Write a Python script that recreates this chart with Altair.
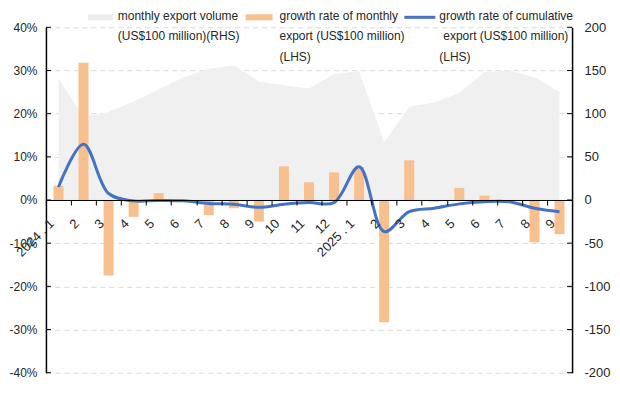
import json
import altair as alt
import pandas as pd

# ---------------- data ----------------
years = ["2024"] * 12 + ["2025"] * 9
months = list(range(1, 13)) + list(range(1, 10))
keys = [f"{y}-{m:02d}" for y, m in zip(years, months)]
tick_labels = ["2024 . 1", "2", "3", "4", "5", "6", "7", "8", "9", "10", "11", "12",
               "2025 . 1", "2", "3", "4", "5", "6", "7", "8", "9"]

# monthly export volume (US$100 million), right axis
export_volume = [141, 96, 102, 114, 128, 142, 152, 156, 137, 133, 129, 146,
                 149, 67, 108, 113, 124, 148, 150, 142, 125]
# growth rate of monthly export (%), left axis
monthly_growth = [3.3, 31.8, -17.5, -3.9, 1.6, -0.4, -3.5, -1.9, -5.0, 7.8, 4.1, 6.4,
                  7.6, -28.3, 9.2, -0.4, 2.8, 1.0, 0.0, -9.8, -7.9]
# growth rate of cumulative export (%), left axis
cumulative_growth = [3.0, 12.9, 1.5, -0.2, -0.1, -0.2, -0.8, -1.0, -1.7, -1.0, -0.6, -0.6,
                     7.7, -7.3, -2.7, -1.9, -0.9, -0.4, -0.4, -1.9, -2.7]

left_ticks = [-0.4, -0.3, -0.2, -0.1, 0.0, 0.1, 0.2, 0.3, 0.4]
right_ticks = [-200, -150, -100, -50, 0, 50, 100, 150, 200]

legend_lines = [
    ["monthly export volume", "(US$100 million)(RHS)"],
    ["growth rate of monthly", "export (US$100 million)", "(LHS)"],
    ["growth rate of cumulative", "export (US$100 million)", "(LHS)"],
]

# ---------------- layout / style ----------------
W, H = 527, 346
FONT = "Liberation Sans"
TXT = "#262626"
BAR = "#F9C08F"
LINE = "#4472C4"
AREA = "#F0F0F0"
GRID = "#D9D9D9"

df = pd.DataFrame({
    "key": keys,
    "volume": export_volume,
    "monthly": [v / 100 for v in monthly_growth],
    "cumulative": [v / 100 for v in cumulative_growth],
})

label_expr = ("[" + ",".join(json.dumps(l) for l in tick_labels) + "][indexof(["
              + ",".join(json.dumps(k) for k in keys) + "], datum.value)]")

x_enc = alt.X(
    "key:N", sort=keys,
    scale=alt.Scale(type="band", paddingInner=0, paddingOuter=0),
    axis=alt.Axis(title=None, labelExpr=label_expr, labelAngle=-45, labelAlign="right",
                  labelBaseline="middle", labelFont=FONT, labelFontSize=13, labelColor=TXT,
                  labelPadding=16, labelOffset=-7, labelOverlap=False, labelBound=False,
                  tickBand="extent", tickSize=5, tickColor="black", domainColor="black",
                  domainWidth=1, offset=-H / 2, zindex=1, grid=False),
)

left_axis = alt.Axis(orient="left", values=left_ticks, title=None,
                     labelExpr="(datum.value < 0 ? '-' : '') + format(abs(datum.value), '.0%')",
                     labelFont=FONT, labelFontSize=12, labelColor=TXT, labelPadding=9,
                     tickSize=0, domainColor="black", domainWidth=1.5,
                     grid=True, gridDash=[5, 4], gridColor=GRID, gridWidth=1)
left_scale = alt.Scale(domain=[-0.4, 0.4], nice=False, zero=False)

area = alt.Chart(df).mark_area(color=AREA).encode(
    x=x_enc,
    y=alt.Y("volume:Q", scale=alt.Scale(domain=[-200, 200], nice=False),
            axis=alt.Axis(orient="right", values=right_ticks, title=None,
                          labelExpr="(datum.value < 0 ? '-' : '') + format(abs(datum.value), 'd')",
                          labelFont=FONT, labelFontSize=13, labelColor=TXT, labelPadding=12,
                          tickSize=0, domainColor="black", domainWidth=1.5, grid=False)),
)

bars = alt.Chart(df).mark_bar(color=BAR, size=10).encode(
    x=x_enc,
    y=alt.Y("monthly:Q", scale=left_scale, axis=left_axis),
)

line = alt.Chart(df).mark_line(color=LINE, strokeWidth=3, interpolate="catmull-rom").encode(
    x=x_enc,
    y=alt.Y("cumulative:Q", scale=left_scale, axis=left_axis),
)

tick_df = pd.DataFrame({"v": left_ticks})
left_ticks_mark = alt.Chart(tick_df).mark_rule(color="black", strokeWidth=1).encode(
    x=alt.value(0), x2=alt.value(5),
    y=alt.Y("v:Q", scale=left_scale, axis=left_axis),
)
right_ticks_mark = alt.Chart(tick_df).mark_rule(color="black", strokeWidth=1).encode(
    x=alt.value(W - 5), x2=alt.value(W),
    y=alt.Y("v:Q", scale=left_scale, axis=left_axis),
)

left_group = alt.layer(bars, line, left_ticks_mark, right_ticks_mark)

# ---------------- legend (manual) ----------------
legend_x = [72, 234, 394]
legend_x2 = [72, 234, 398]
legend_y = [-11, 9, 30]
legend_layers = []
for i, lines in enumerate(legend_lines):
    for j, t in enumerate(lines):
        xx = legend_x[i] if j != 1 else legend_x2[i]
        legend_layers.append(
            alt.Chart(pd.DataFrame({"t": [t]})).mark_text(
                align="left", baseline="middle", font=FONT, fontSize=12, color=TXT
            ).encode(x=alt.value(xx), y=alt.value(legend_y[j]), text="t:N")
        )

one = pd.DataFrame({"a": [0]})
sw_area = alt.Chart(one).mark_rect(color="#EDEDED").encode(
    x=alt.value(42), x2=alt.value(67), y=alt.value(-13), y2=alt.value(-7))
sw_bar = alt.Chart(one).mark_rect(color=BAR).encode(
    x=alt.value(200), x2=alt.value(227), y=alt.value(-13), y2=alt.value(-7))
sw_line = alt.Chart(one).mark_rule(color=LINE, strokeWidth=3).encode(
    x=alt.value(359), x2=alt.value(390), y=alt.value(-10))

chart = alt.layer(area, left_group, sw_area, sw_bar, sw_line, *legend_layers).resolve_scale(
    y="independent"
).properties(
    width=W, height=H, autosize="none",
    padding={"left": 38, "top": 19, "right": 40, "bottom": 15},
    background="white",
).configure_view(strokeWidth=0)

chart.save("out.html", embed_options={"renderer": "svg", "actions": False})
